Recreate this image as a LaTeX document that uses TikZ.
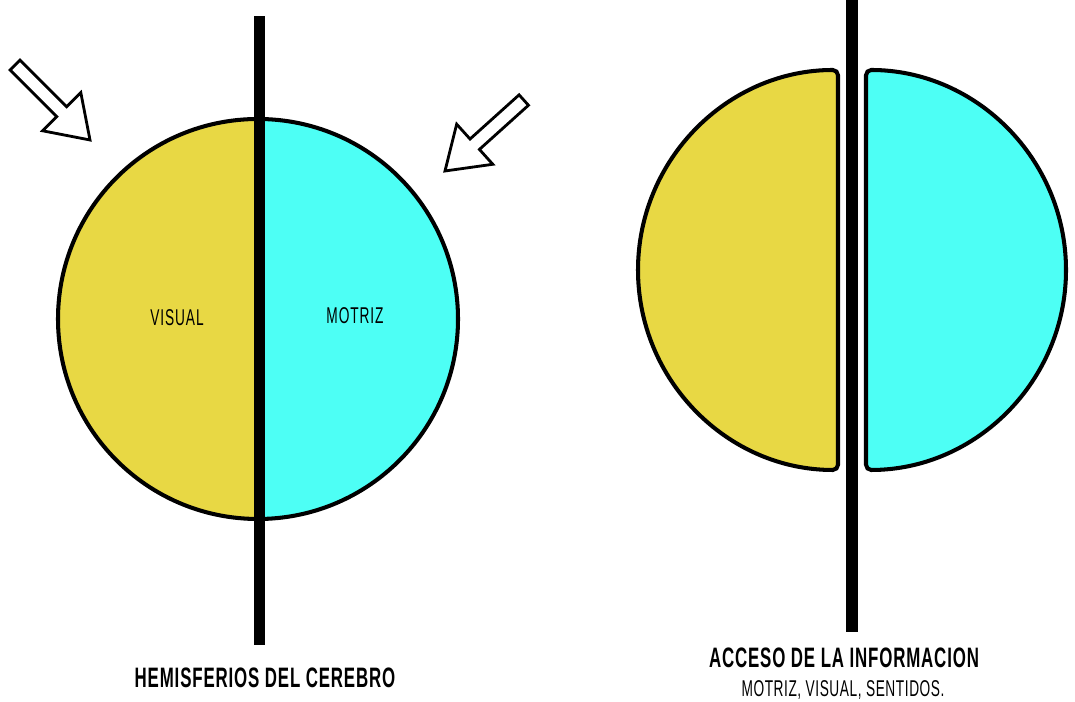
\documentclass[tikz,border=0pt]{standalone}
\usepackage{fontspec}
\setmainfont{Liberation Sans}
\newfontfamily\narrowfont[FakeStretch=0.6,LetterSpace=4]{Liberation Sans}
\newfontfamily\narrowtitle[FakeStretch=0.6,LetterSpace=3]{Liberation Sans}
\newfontfamily\narrowsub[FakeStretch=0.6,LetterSpace=2.5]{Liberation Sans}
\definecolor{lobeyellow}{HTML}{E8D844}
\definecolor{lobecyan}{HTML}{4DFFF5}
\begin{document}
\begin{tikzpicture}[x=0.02cm,y=0.02cm,
                    outline/.style={draw=black,line width=2.3pt},
                    divider/.style={fill=black},
                    hollow arrow/.style={draw=black,fill=white,line width=1.6pt,line join=miter},
                    lobe label/.style={font=\narrowfont\fontsize{13}{15}\selectfont},
                    title label/.style={font=\narrowtitle\bfseries\fontsize{16}{18}\selectfont},
                    sub label/.style={font=\narrowsub\fontsize{13}{15}\selectfont}
                   ]
   \useasboundingbox (0,0) rectangle (1075,702);
   % left: whole brain, two halves
   \fill[lobeyellow] (258,583) arc[start angle=90,end angle=270,radius=200] -- cycle;
   \fill[lobecyan] (258,183) arc[start angle=-90,end angle=90,radius=200] -- cycle;
   \draw[outline] (258,383) circle[radius=200];
   \fill[divider] (253.5,57) rectangle (264.5,686);
   % arrows pointing at the brain
   \begin{scope}[shift={(90,562)},rotate=-45]
     \draw[hollow arrow] (0,0) -- (-40,27) -- (-40,7) -- (-106,7) -- (-106,-7) -- (-40,-7) -- (-40,-27) -- cycle;
   \end{scope}
   \begin{scope}[shift={(445,531)},rotate=222]
     \draw[hollow arrow] (0,0) -- (-40,27) -- (-40,7) -- (-106,7) -- (-106,-7) -- (-40,-7) -- (-40,-27) -- cycle;
   \end{scope}
   \node[lobe label] (visual) at (177,384) {VISUAL};
   \node[lobe label] (motriz) at (355,386) {MOTRIZ};
   \node[title label] (hemis) at (265,24) {HEMISFERIOS DEL CEREBRO};
   % right: split halves
   \draw[outline,fill=lobeyellow,rounded corners=3pt] (838,632) arc[start angle=90,end angle=270,radius=200] -- cycle;
   \draw[outline,fill=lobecyan,rounded corners=3pt] (866,232) arc[start angle=-90,end angle=90,radius=200] -- cycle;
   \fill[divider] (845.5,70) rectangle (858,702);
   \node[title label] (acceso) at (844,44) {ACCESO DE LA INFORMACION};
   \node[sub label] (sentidos) at (843,12) {MOTRIZ, VISUAL, SENTIDOS.};
 \end{tikzpicture}
\end{document}
